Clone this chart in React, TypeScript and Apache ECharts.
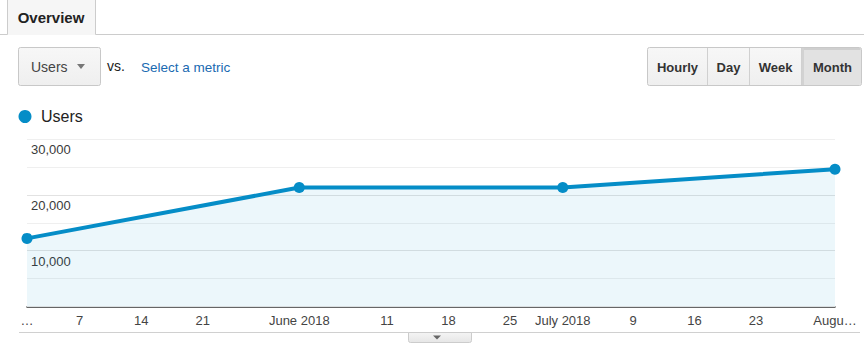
import React, { useEffect, useRef } from "react";
import * as echarts from "echarts";

// ---- data ----
const seriesName = "Users";
const pointDates = ["2018-05-01", "2018-06-01", "2018-07-01", "2018-08-01"];
const users = [12200, 21300, 21300, 24600];
const tickDates = [
  "2018-05-01", "2018-05-07", "2018-05-14", "2018-05-21",
  "2018-06-01", "2018-06-11", "2018-06-18", "2018-06-25",
  "2018-07-01", "2018-07-09", "2018-07-16", "2018-07-23",
  "2018-08-01",
];
const tickLabels = [
  "…", "7", "14", "21", "June 2018", "11", "18", "25",
  "July 2018", "9", "16", "23", "Augu…",
];
const yTicks = [0, 5000, 10000, 15000, 20000, 25000, 30000];
const timeButtons = ["Hourly", "Day", "Week", "Month"];

const startDate = pointDates[0];
const dayOffset = (d: string) => {
  const [y, m, dd] = d.split("-").map(Number);
  const [y0, m0, d0] = startDate.split("-").map(Number);
  return Math.round((Date.UTC(y, m - 1, dd) - Date.UTC(y0, m0 - 1, d0)) / 86400000);
};

const FONT = "Arial, 'Liberation Sans', sans-serif";
const BLUE = "#058dc7";

export default function App() {
  const ref = useRef<HTMLDivElement>(null);

  useEffect(() => {
    if (!ref.current) return;
    const chart = echarts.init(ref.current, null, { renderer: "svg" });
    const tickOffsets = tickDates.map(dayOffset);
    const labelMap: Record<number, string> = {};
    tickOffsets.forEach((o, i) => (labelMap[o] = tickLabels[i]));
    const xMax = dayOffset(pointDates[pointDates.length - 1]);

    // button group geometry
    const btnEdges = [647.5, 707.5, 749.5, 801.5, 861.5];

    const graphic: any[] = [
      // tab strip
      { type: "rect", shape: { x: 7.5, y: -1, width: 88, height: 36 }, style: { fill: "#f6f6f6" }, silent: true },
      { type: "line", shape: { x1: 0, y1: 34.5, x2: 7.5, y2: 34.5 }, style: { stroke: "#cccccc", lineWidth: 1 } },
      { type: "line", shape: { x1: 95.5, y1: 34.5, x2: 864, y2: 34.5 }, style: { stroke: "#cccccc", lineWidth: 1 } },
      { type: "line", shape: { x1: 7.5, y1: 0, x2: 7.5, y2: 34.5 }, style: { stroke: "#cccccc", lineWidth: 1 } },
      { type: "line", shape: { x1: 95.5, y1: 0, x2: 95.5, y2: 34.5 }, style: { stroke: "#cccccc", lineWidth: 1 } },
      {
        type: "text", x: 51, y: 17,
        style: { text: "Overview", font: `bold 15px ${FONT}`, fill: "#222222", align: "center", verticalAlign: "middle" },
      },
      // metric dropdown
      {
        type: "rect", shape: { x: 18.5, y: 47.5, width: 82, height: 38, r: 2 },
        style: {
          fill: new echarts.graphic.LinearGradient(0, 0, 0, 1, [
            { offset: 0, color: "#f7f7f7" }, { offset: 1, color: "#efefef" },
          ]),
          stroke: "#c8c8c8", lineWidth: 1,
        },
      },
      {
        type: "text", x: 31, y: 67,
        style: { text: "Users", font: `14px ${FONT}`, fill: "#444444", verticalAlign: "middle" },
      },
      { type: "polygon", shape: { points: [[77, 64], [85, 64], [81, 69]] }, style: { fill: "#777777" } },
      {
        type: "text", x: 107, y: 66,
        style: { text: "vs.", font: `14px ${FONT}`, fill: "#222222", verticalAlign: "middle" },
      },
      {
        type: "text", x: 141, y: 67,
        style: { text: "Select a metric", font: `13.5px ${FONT}`, fill: "#1a6ab1", verticalAlign: "middle" },
      },
      // time buttons
      {
        type: "rect", shape: { x: 647.5, y: 47.5, width: 214, height: 38, r: 2 },
        style: {
          fill: new echarts.graphic.LinearGradient(0, 0, 0, 1, [
            { offset: 0, color: "#f7f7f7" }, { offset: 1, color: "#efefef" },
          ]),
          stroke: "#c8c8c8", lineWidth: 1,
        },
      },
      {
        type: "rect", shape: { x: 801.5, y: 48, width: 59.5, height: 37, r: [0, 2, 2, 0] },
        style: { fill: "#e2e2e2" },
      },
      { type: "line", shape: { x1: 802, y1: 49, x2: 860.5, y2: 49 }, style: { stroke: "#cfcfcf", lineWidth: 2 } },
      { type: "line", shape: { x1: 803, y1: 48, x2: 803, y2: 85 }, style: { stroke: "#d2d2d2", lineWidth: 2 } },
      ...btnEdges.slice(1, 4).map((x) => ({
        type: "line", shape: { x1: x, y1: 48, x2: x, y2: 85 }, style: { stroke: "#d0d0d0", lineWidth: 1 },
      })),
      ...timeButtons.map((t, i) => ({
        type: "text", x: (btnEdges[i] + btnEdges[i + 1]) / 2 + (i === 3 ? 1 : 0), y: 67,
        style: { text: t, font: `bold 13px ${FONT}`, fill: "#333333", align: "center", verticalAlign: "middle" },
      })),
      // bottom strip
      { type: "line", shape: { x1: 19, y1: 332.5, x2: 860, y2: 332.5 }, style: { stroke: "#d0d0d0", lineWidth: 1 } },
      {
        type: "rect", shape: { x: 408.5, y: 332.5, width: 63, height: 10, r: [0, 0, 2, 2] },
        style: {
          fill: new echarts.graphic.LinearGradient(0, 0, 0, 1, [
            { offset: 0, color: "#f4f4f4" }, { offset: 1, color: "#e6e6e6" },
          ]),
          stroke: "#cccccc", lineWidth: 1,
        },
      },
      { type: "polygon", shape: { points: [[433, 335.5], [441, 335.5], [437, 339.5]] }, style: { fill: "#666666" } },
    ];

    chart.setOption({
      animation: false,
      backgroundColor: "#ffffff",
      textStyle: { fontFamily: FONT },
      graphic,
      legend: {
        data: [seriesName],
        left: 18.5,
        top: 108.5,
        padding: 0,
        icon: "circle",
        itemWidth: 22,
        itemHeight: 13,
        selectedMode: false,
        textStyle: { fontSize: 16, color: "#222222", fontFamily: FONT },
      },
      grid: { left: 27, right: 29, top: 139, bottom: 46.5, containLabel: false },
      xAxis: {
        type: "value",
        min: 0,
        max: xMax,
        splitLine: { show: false },
        axisTick: { show: false },
        axisLine: { show: true, onZero: false, lineStyle: { color: "#333333", width: 1.5 } },
        axisLabel: {
          customValues: tickOffsets,
          showMinLabel: true,
          showMaxLabel: true,
          hideOverlap: false,
          margin: 7,
          fontSize: 13,
          color: "#444444",
          fontFamily: FONT,
          formatter: (v: number) => labelMap[v] ?? "",
        },
      },
      yAxis: {
        type: "value",
        min: yTicks[0],
        max: yTicks[yTicks.length - 1],
        interval: yTicks[1] - yTicks[0],
        axisLine: { show: false },
        axisTick: { show: false },
        splitLine: {
          show: true,
          lineStyle: {
            color: ["#e2e2e2", "#efefef", "#e2e2e2", "#efefef", "#e2e2e2", "#efefef", "#efefef"],
            width: 1,
          },
        },
        axisLabel: {
          inside: true,
          margin: 4,
          verticalAlign: "top",
          padding: [4, 0, 0, 0],
          fontSize: 13,
          color: "#3a3a3a",
          fontFamily: FONT,
          formatter: (v: number) => (v > 0 && v % 10000 === 0 ? v.toLocaleString("en-US") : ""),
        },
        z: 3,
      },
      series: [
        {
          name: seriesName,
          type: "line",
          data: pointDates.map((d, i) => [dayOffset(d), users[i]]),
          symbol: "circle",
          symbolSize: 11,
          color: BLUE,
          itemStyle: { color: BLUE },
          lineStyle: { color: BLUE, width: 4 },
          areaStyle: { color: "rgba(5,141,199,0.105)" },
          clip: false,
          z: 4,
        },
      ],
    });
    return () => chart.dispose();
  }, []);

  return (
    <div style={{ position: "fixed", left: 0, top: 0, width: 864, height: 353, background: "#fff" }}>
      <div ref={ref} style={{ width: 864, height: 353 }} />
    </div>
  );
}
